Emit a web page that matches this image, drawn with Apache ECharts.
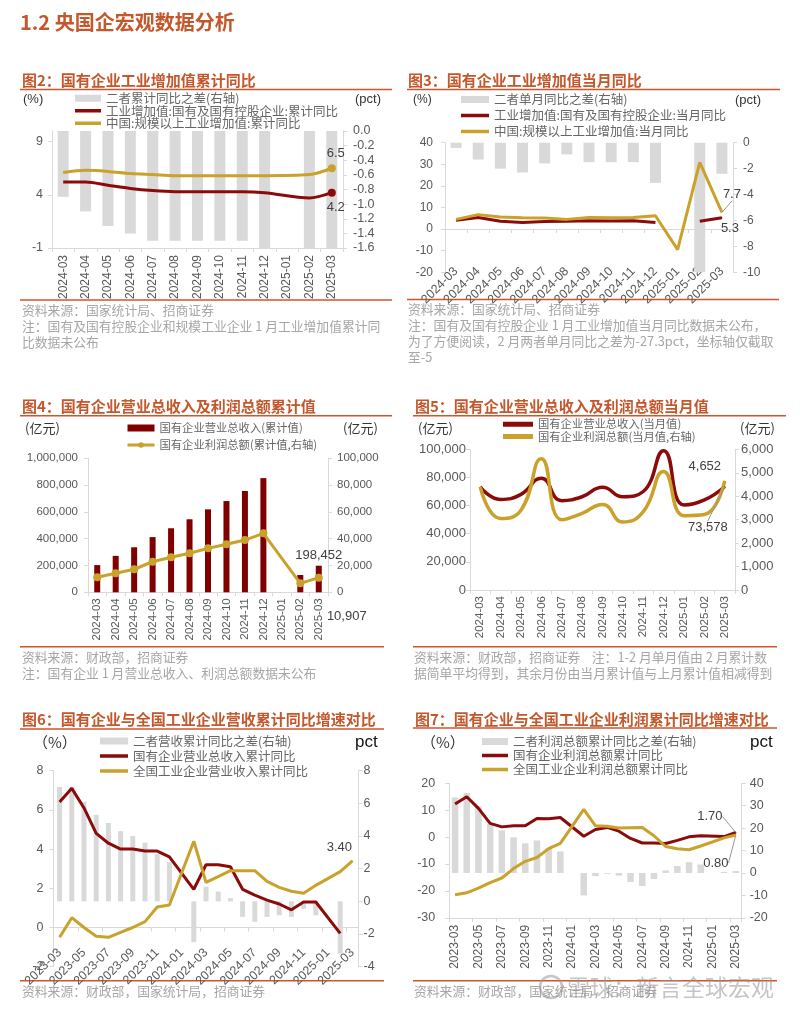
<!DOCTYPE html>
<html><head><meta charset="utf-8">
<script src="https://cdn.jsdelivr.net/npm/echarts@6/dist/echarts.min.js"></script>
<style>html,body{margin:0;padding:0;background:#fff}#c{width:800px;height:1010px}</style>
</head><body><div id="c"></div>
<script>
// ---------- DATA ----------
const months13 = ['2024-03','2024-04','2024-05','2024-06','2024-07','2024-08','2024-09','2024-10','2024-11','2024-12','2025-01','2025-02','2025-03'];
const months25 = ['2023-03','2023-04','2023-05','2023-06','2023-07','2023-08','2023-09','2023-10','2023-11','2023-12','2024-01','2024-02','2024-03','2024-04','2024-05','2024-06','2024-07','2024-08','2024-09','2024-10','2024-11','2024-12','2025-01','2025-02','2025-03'];

// Fig2 国有企业工业增加值累计同比
const f2Names = ['二者累计同比之差(右轴)','工业增加值:国有及国有控股企业:累计同比','中国:规模以上工业增加值:累计同比'];
const f2Diff = [-0.9,-1.1,-1.3,-1.4,-1.5,-1.5,-1.5,-1.5,-1.5,-1.6,null,-2.2,-2.3];
const f2Soe  = [5.2,5.2,4.9,4.6,4.4,4.3,4.3,4.3,4.3,4.2,null,3.7,4.2];
const f2All  = [6.1,6.3,6.2,6.0,5.9,5.8,5.8,5.8,5.8,5.8,null,5.9,6.5];
const f2LeftTicks = [-1,4,9];

// Fig3 国有企业工业增加值当月同比
const f3Names = ['二者单月同比之差(右轴)','工业增加值:国有及国有控股企业:当月同比','中国:规模以上工业增加值:当月同比'];
const f3Diff = [-0.4,-1.3,-2.0,-2.3,-1.6,-0.9,-1.5,-1.5,-1.5,-3.1,null,-27.3,-2.4];
const f3Soe  = [4.1,5.4,3.6,3.0,3.5,3.6,3.9,3.8,3.9,3.1,null,3.6,5.3];
const f3All  = [4.5,6.7,5.6,5.3,5.1,4.5,5.4,5.3,5.4,6.2,-9.5,30.9,7.7];

// Fig4 国有企业营业总收入及利润总额累计值
const f4Names = ['国有企业营业总收入(累计值)','国有企业利润总额(累计值,右轴)'];
const f4Rev    = [203000,272000,336000,412000,478000,545000,619000,681000,756000,852000,null,129000,198452];
const f4Profit = [11200,14200,17200,22800,26100,29100,32800,35800,39000,44000,null,6700,10907];

// Fig5 国有企业营业总收入及利润总额当月值
const f5Names = ['国有企业营业总收入(当月值)','国有企业利润总额(当月值,右轴)'];
const f5Rev    = [73400,64400,68000,79400,63500,66300,73000,66300,70000,99000,60400,64000,73578];
const f5Profit = [4400,3050,3400,5600,3000,3270,3650,2900,3340,5050,3170,3220,4652];

// Fig6 国有企业与全国工业企业营收累计同比
const f6Names = ['二者营收累计同比之差(右轴)','国有企业营业总收入累计同比','全国工业企业营业收入累计同比'];
const f6Diff = [7.0,7.0,6.1,5.3,4.8,4.3,4.0,3.6,2.9,2.4,null,-2.5,0.9,0.6,0.2,-0.95,-1.25,-0.95,-0.85,-0.95,-0.45,-0.85,null,-3.2,null];
const f6Soe  = [6.4,7.1,6.1,4.8,4.3,4.0,4.0,3.9,3.9,3.6,null,1.95,3.2,3.2,3.1,1.95,1.65,1.4,1.2,0.9,1.3,1.3,null,-0.3,null];
const f6All  = [-0.5,0.5,0.0,-0.45,-0.5,-0.25,0.0,0.3,1.05,1.15,null,4.4,2.3,2.6,2.9,2.9,2.9,2.35,2.05,1.85,1.75,2.15,null,2.85,3.4];

// Fig7 国有企业与全国工业企业利润累计同比
const f7Names = ['二者利润总额累计同比之差(右轴)','国有企业利润总额累计同比','全国工业企业利润总额累计同比'];
const f7Diff = [33.7,35.7,29.7,22.0,19.0,15.9,13.2,14.5,11.1,9.6,null,-10.0,-1.4,-0.4,-1.2,-4.0,-5.8,-2.7,1.1,3.1,4.8,3.8,null,0.5,0.9];
const f7Soe  = [12.3,15.0,10.7,5.1,3.8,4.2,4.2,6.9,6.8,7.3,null,0.3,2.8,3.6,2.2,-0.5,-2.2,-2.2,-2.4,-1.2,0.1,0.5,null,0.2,1.7];
const f7All  = [-21.4,-20.7,-19.0,-16.9,-15.2,-11.7,-9.0,-7.6,-4.3,-2.3,null,10.3,4.2,4.0,3.4,3.5,3.6,0.5,-3.5,-4.3,-4.7,-3.3,null,-0.3,0.8];

// ---------- STYLE ----------
const FONT = '"Liberation Sans", Arial, sans-serif';
const CJK = '"Noto Sans CJK SC", sans-serif';
const RED = '#8b0b0b', GOLD = '#c9a12b', GRAY = '#d9d9d9', BARRED = '#800000';
const AXC = '#d9d9d9', LBL = '#595959', TITLE = '#c4572b', RULE = '#d0552b', NOTE = '#a6a6a6';
const LINE_ICON = 'path://M0,0h0.01v7h-0.01z M0,1.5h30v4h-30z';
const THICK_ICON = 'path://M0,0h0.01v7h-0.01z M0,1h30v5h-30z';
const fmtK = v => String(Math.round(v)).replace(/\B(?=(\d{3})+(?!\d))/g, ',');

function yAx(grid, pos, min, max, interval, o) {
  o = o || {};
  const lab = {color: LBL, fontSize: o.fs || 12, fontFamily: FONT, margin: o.margin != null ? o.margin : 8};
  if (o.fmt) lab.formatter = o.fmt;
  if (o.custom) lab.customValues = o.custom;
  const tick = {show: true, length: 4, lineStyle: {color: AXC}};
  if (o.custom) tick.customValues = o.custom;
  return {type: 'value', gridIndex: grid, position: pos, min, max, interval,
    axisLine: {show: true, lineStyle: {color: AXC}}, axisTick: tick,
    splitLine: {show: false}, axisLabel: lab};
}
function xAx(grid, data, o) {
  return {type: 'category', gridIndex: grid, data, boundaryGap: true,
    axisLine: {show: true, onZero: o.onZero, onZeroAxisIndex: o.zeroIdx, lineStyle: {color: AXC}},
    axisTick: {show: true, length: 4, lineStyle: {color: AXC}},
    axisLabel: {rotate: o.rotate, interval: o.interval || 0, margin: o.margin, color: LBL, fontSize: o.fs || 12, fontFamily: FONT},
    splitLine: {show: false}};
}
function lbl(extra) {
  return Object.assign({show: true, color: '#404040', fontSize: 13, fontFamily: FONT}, extra);
}
function mark(arr, idx, label, size, extra) {
  return arr.map((v, i) => i === idx ? Object.assign({value: v, symbol: 'circle', symbolSize: size, label: label}, extra || {}) : v);
}
// icons: 'bar' -> rect, 'line' -> thin line, 'thick' -> thicker line, null -> default (line + symbol)
function leg(names, icons, left, top, o) {
  const data = names.map((n, i) => {
    const ic = icons[i];
    if (ic === 'bar') return {name: n, icon: 'rect'};
    if (ic === 'line') return {name: n, icon: LINE_ICON};
    if (ic === 'thick') return {name: n, icon: THICK_ICON};
    return {name: n};
  });
  return {data, orient: 'vertical', left, top, padding: 0, itemWidth: o.w, itemHeight: o.h, itemGap: o.gap,
    selectedMode: false, lineStyle: {width: o.lw || 3.5},
    textStyle: {fontSize: o.fs, color: '#666', fontFamily: CJK, lineHeight: o.lh}};
}
function line(name, xi, yi, data, color, o) {
  o = o || {};
  return Object.assign({name, type: 'line', xAxisIndex: xi, yAxisIndex: yi, data, symbol: 'none', showAllSymbol: true,
    connectNulls: true, smooth: false, lineStyle: {color, width: 3}, itemStyle: {color}, z: 3}, o);
}
function bar(name, xi, yi, data, color, w) {
  return {name, type: 'bar', xAxisIndex: xi, yAxisIndex: yi, data, barWidth: w, itemStyle: {color}, clip: true, z: 2};
}

// ---------- TEXT (graphic) ----------
const G = [];
function T(x, y, text, font, fill, align) {
  G.push({type: 'text', x, y, silent: true, style: {text, font, fill, align: align || 'left', verticalAlign: 'middle'}});
}
function R(x1, y, x2) {
  G.push({type: 'line', silent: true, shape: {x1, y1: y, x2, y2: y}, style: {stroke: RULE, lineWidth: 1.5}});
}
const TF = 'bold 15px ' + CJK, NF = '12.8px ' + CJK;
T(20, 22, '1.2 央国企宏观数据分析', 'bold 20px ' + CJK, TITLE);
T(22, 80, '图2：国有企业工业增加值累计同比', TF, TITLE);
T(408, 80, '图3：国有企业工业增加值当月同比', TF, TITLE);
T(22, 406, '图4：国有企业营业总收入及利润总额累计值', TF, TITLE);
T(415, 406, '图5：国有企业营业总收入及利润总额当月值', TF, TITLE);
T(22, 719, '图6：国有企业与全国工业企业营收累计同比增速对比', TF, TITLE);
T(415, 719, '图7：国有企业与全国工业企业利润累计同比增速对比', TF, TITLE);
R(20, 89.5, 392); R(407, 89.5, 780);
R(20, 300, 392); R(407, 299.5, 779);
R(20, 415.7, 392); R(413, 415.7, 786);
R(20, 646.7, 384); R(413, 646.7, 777);
R(20, 729, 384); R(413, 728, 777);
R(20, 980.7, 384); R(413, 980.7, 777);
// units
T(23, 99, '(%)', '13px ' + FONT, '#333');
T(355, 99, '(pct)', '13px ' + FONT, '#333');
T(413, 100, '(%)', '12px ' + FONT, '#333');
T(735, 100, '(pct)', '13px ' + FONT, '#333');
T(25, 428, '(亿元)', '13px ' + CJK, '#333');
T(343, 428, '(亿元)', '13px ' + CJK, '#333');
T(418, 428, '(亿元)', '13px ' + CJK, '#333');
T(740, 428, '(亿元)', '13px ' + CJK, '#333');
T(33, 742, '（%）', '15px ' + CJK, '#333');
T(355, 742, 'pct', '17px ' + FONT, '#111');
T(421, 742, '（%）', '15px ' + CJK, '#333');
T(750, 742, 'pct', '17px ' + FONT, '#111');
// notes
T(22, 310, '资料来源：国家统计局、招商证券', NF, NOTE);
T(22, 326, '注：国有及国有控股企业和规模工业企业 1 月工业增加值累计同', NF, NOTE);
T(22, 342, '比数据未公布', NF, NOTE);
T(408, 309, '资料来源：国家统计局、招商证券', NF, NOTE);
T(408, 325.5, '注：国有及国有控股企业 1 月工业增加值当月同比数据未公布，', NF, NOTE);
T(408, 341.5, '为了方便阅读，2 月两者单月同比之差为-27.3pct，坐标轴仅截取', NF, NOTE);
T(408, 357.5, '至-5', NF, NOTE);
T(22, 657, '资料来源：财政部，招商证券', NF, NOTE);
T(22, 673, '注：国有企业 1 月营业总收入、利润总额数据未公布', NF, NOTE);
T(414, 657, '资料来源：财政部，招商证券    注：1-2 月单月值由 2 月累计数', NF, NOTE);
T(414, 673, '据简单平均得到，其余月份由当月累计值与上月累计值相减得到', NF, NOTE);
T(22, 991.5, '资料来源：财政部，国家统计局，招商证券', NF, NOTE);
T(414, 991.5, '资料来源：财政部，国家统计局，招商证券', NF, NOTE);
// watermark
G.push({type: 'circle', silent: true, shape: {cx: 551, cy: 987, r: 11}, style: {fill: 'none', stroke: 'rgba(150,150,150,0.55)', lineWidth: 2.5}});
T(567, 987, '雪球：新言全球宏观', '23px ' + CJK, 'rgba(150,150,150,0.55)');

// ---------- OPTION ----------
const option = {
  animation: false,
  backgroundColor: '#fff',
  grid: [
    {left: 52, top: 131, width: 291, height: 117, outerBoundsMode: 'none'},
    {left: 445, top: 142.7, width: 288, height: 129.6, outerBoundsMode: 'none'},
    {left: 88, top: 458.3, width: 240, height: 134, outerBoundsMode: 'none'},
    {left: 470, top: 449.3, width: 265, height: 140.7, outerBoundsMode: 'none'},
    {left: 53.5, top: 770.7, width: 305, height: 196, outerBoundsMode: 'none'},
    {left: 449.2, top: 783.3, width: 292.5, height: 134.5, outerBoundsMode: 'none'}
  ],
  xAxis: [
    xAx(0, months13, {onZero: false, rotate: 90, margin: 7, fs: 12}),
    xAx(1, months13, {onZero: true, zeroIdx: 2, rotate: 45, margin: -3, fs: 12.5}),
    xAx(2, months13, {onZero: true, zeroIdx: 4, rotate: 90, margin: 6, fs: 11.5}),
    xAx(3, months13, {onZero: true, zeroIdx: 6, rotate: 90, margin: 6, fs: 11.5}),
    xAx(4, months25, {onZero: true, zeroIdx: 8, rotate: 45, margin: -16, fs: 12.5, interval: 1}),
    xAx(5, months25, {onZero: false, rotate: 90, margin: 7, fs: 12, interval: 1})
  ],
  yAxis: [
    yAx(0, 'left', -1, 10, 5, {custom: f2LeftTicks, fs: 12.5, margin: 9}),
    yAx(0, 'right', -1.6, 0, 0.2, {fmt: v => v.toFixed(1), fs: 12.5, margin: 10}),
    yAx(1, 'left', -20, 40, 10, {fs: 12, margin: 12}),
    yAx(1, 'right', -10, 0, 2, {fs: 12, margin: 10}),
    yAx(2, 'left', 0, 1000000, 200000, {fmt: fmtK, fs: 11.5, margin: 10}),
    yAx(2, 'right', 0, 100000, 20000, {fmt: fmtK, fs: 11.5, margin: 9}),
    yAx(3, 'left', 0, 100000, 20000, {fmt: fmtK, fs: 13, margin: 4}),
    yAx(3, 'right', 0, 6000, 1000, {fmt: fmtK, fs: 13, margin: 6}),
    yAx(4, 'left', -2, 8, 2, {fs: 12.5, margin: 10}),
    yAx(4, 'right', -4, 8, 2, {fs: 12.5, margin: 5}),
    yAx(5, 'left', -30, 20, 10, {fs: 12.5, margin: 14}),
    yAx(5, 'right', -20, 40, 10, {fs: 12.5, margin: 8})
  ],
  legend: [
    leg(f2Names, ['bar', 'line', 'line'], 75, 92, {w: 26, h: 7, gap: 0, fs: 12.5, lh: 12}),
    leg(f3Names, ['bar', 'line', 'line'], 461, 93, {w: 28, h: 7, gap: 3, fs: 12.5, lh: 13}),
    leg(f4Names, ['bar', null], 126, 422, {w: 27, h: 7, gap: 5, fs: 11.3, lh: 12, lw: 3}),
    leg(f5Names, ['thick', 'thick'], 503, 418, {w: 30, h: 7, gap: 0, fs: 11.3, lh: 12.4}),
    leg(f6Names, ['bar', 'line', 'line'], 100, 734.5, {w: 28, h: 7, gap: 2, fs: 12.5, lh: 13}),
    leg(f7Names, ['bar', 'line', 'line'], 482, 735, {w: 26, h: 7, gap: 1, fs: 12.5, lh: 13})
  ],
  graphic: {elements: G},
  series: [
    // Fig2
    bar(f2Names[0], 0, 1, f2Diff, GRAY, 11),
    line(f2Names[1], 0, 0, mark(f2Soe, 12, lbl({position: 'bottom', distance: 4, formatter: p => p.value.toFixed(1), offset: [4, 0]}), 8), RED, {smooth: 0.3}),
    line(f2Names[2], 0, 0, mark(f2All, 12, lbl({position: 'top', distance: 4, formatter: p => p.value.toFixed(1), offset: [4, 0]}), 8), GOLD, {smooth: 0.3}),
    // Fig3
    bar(f3Names[0], 1, 3, f3Diff, GRAY, 11),
    line(f3Names[1], 1, 2, mark(f3Soe, 12, lbl({position: 'inside', formatter: p => p.value.toFixed(1), offset: [8, 11]}), 1), RED, {connectNulls: false}),
    line(f3Names[2], 1, 2, mark(f3All, 12, lbl({position: 'inside', formatter: p => p.value.toFixed(1)}), 1), GOLD,
      {labelLine: {show: true, lineStyle: {color: '#999', width: 1}}, labelLayout: p => p.dataIndex === 12 ? {dx: 10, dy: -18} : {}}),
    // Fig4
    {name: f4Names[0], type: 'bar', xAxisIndex: 2, yAxisIndex: 4, barWidth: 6, itemStyle: {color: BARRED}, z: 2,
      data: f4Rev.map((v, i) => i === 12 ? {value: v, label: lbl({position: 'top', distance: 4, formatter: p => fmtK(p.value)})} : v)},
    line(f4Names[1], 2, 5, mark(f4Profit, 12, lbl({position: 'inside', formatter: p => fmtK(p.value), offset: [28, 39]}), 8), GOLD,
      {symbol: 'circle', symbolSize: 8}),
    // Fig5
    line(f5Names[0], 3, 6, mark(f5Rev, 12, lbl({position: 'inside', formatter: p => fmtK(p.value)}), 1), RED,
      {smooth: 0.5, lineStyle: {color: RED, width: 3.5}, labelLine: {show: true, lineStyle: {color: '#999', width: 1}},
       labelLayout: p => p.dataIndex === 12 ? {dx: -17, dy: 41} : {}}),
    line(f5Names[1], 3, 7, mark(f5Profit, 12, lbl({position: 'inside', formatter: p => fmtK(p.value), offset: [-20, -14]}), 1), GOLD,
      {smooth: 0.5, lineStyle: {color: GOLD, width: 3.5}}),
    // Fig6
    bar(f6Names[0], 4, 9, f6Diff, GRAY, 5),
    line(f6Names[1], 4, 8, f6Soe, RED),
    line(f6Names[2], 4, 8, mark(f6All, 24, lbl({position: 'inside', formatter: p => p.value.toFixed(2), offset: [-13, -13]}), 1), GOLD),
    // Fig7
    bar(f7Names[0], 5, 11, f7Diff, GRAY, 6.5),
    line(f7Names[1], 5, 10, mark(f7Soe, 24, lbl({position: 'inside', formatter: p => p.value.toFixed(2)}), 1), RED,
      {labelLine: {show: true, lineStyle: {color: '#999', width: 1}}, labelLayout: p => p.dataIndex === 24 ? {dx: -26, dy: -16} : {}}),
    line(f7Names[2], 5, 10, mark(f7All, 24, lbl({position: 'inside', formatter: p => p.value.toFixed(2)}), 1), GOLD,
      {labelLine: {show: true, lineStyle: {color: '#999', width: 1}}, labelLayout: p => p.dataIndex === 24 ? {dx: -20, dy: 28} : {}})
  ]
};
const chart = echarts.init(document.getElementById('c'), null, {renderer: 'canvas', width: 800, height: 1010});
chart.setOption(option);
</script>
</body></html>
